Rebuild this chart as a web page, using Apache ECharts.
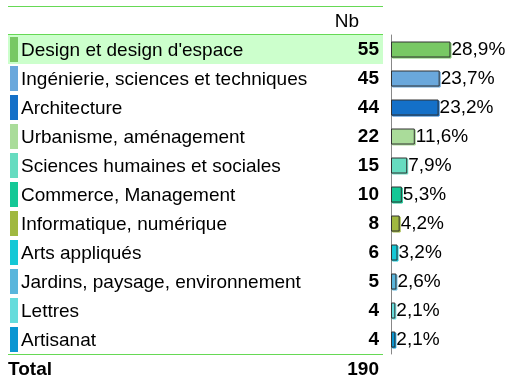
<!DOCTYPE html>
<html>
<head>
<meta charset="utf-8">
<script src="https://cdn.jsdelivr.net/npm/echarts@6/dist/echarts.min.js"></script>
<style>
  html, body { margin: 0; padding: 0; background: #fff; }
  #chart { width: 511px; height: 378px; }
</style>
</head>
<body>
<div id="chart"></div>
<script>
// Répartition par domaine de formation (plusieurs réponses possibles)
var categories = [
  "Design et design d'espace",
  "Ingénierie, sciences et techniques",
  "Architecture",
  "Urbanisme, aménagement",
  "Sciences humaines et sociales",
  "Commerce, Management",
  "Informatique, numérique",
  "Arts appliqués",
  "Jardins, paysage, environnement",
  "Lettres",
  "Artisanat"
];
var counts = [55, 45, 44, 22, 15, 10, 8, 6, 5, 4, 4];
var colors = [
  '#78c864', '#6aa8dc', '#1470c8', '#aadc9a', '#66dcc0', '#14c896',
  '#a0b840', '#14c8d6', '#5ab6dc', '#66dcdc', '#0a96d2'
];
var totalRespondents = 190;
var headerLabel = 'Nb';
var totalLabel = 'Total';
var highlightedRows = ["Design et design d'espace"];

var FONT = '"Liberation Sans", Arial, sans-serif';
var FS = 19;
var LINE_GREEN = '#66d955';

// layout
var tableLeft = 8, tableRight = 383;
var rowsTop = 35, rowsBottom = 354;
var barLeft = 391, barWidthPx = 120;

function pct(v) {
  return (v / totalRespondents * 100).toFixed(1).replace('.', ',') + '%';
}

var rich = { t: { fontSize: FS, fontFamily: FONT, color: '#000', padding: [2, 0, 0, 3] } };
colors.forEach(function (c, i) {
  rich['m' + i] = { width: 8, height: 25, backgroundColor: c };
});

var highlightData = categories.map(function (c) {
  return highlightedRows.indexOf(c) >= 0 ? 1 : '-';
});

var chart = echarts.init(document.getElementById('chart'), null, { renderer: 'canvas' });

var option = {
  animation: false,
  grid: [
    { left: barLeft, top: rowsTop, width: barWidthPx, height: rowsBottom - rowsTop, containLabel: false },
    { left: tableLeft, top: rowsTop, width: tableRight - tableLeft, height: rowsBottom - rowsTop, containLabel: false }
  ],
  xAxis: [
    { gridIndex: 0, type: 'value', min: 0, max: 111, show: false },
    { gridIndex: 1, type: 'value', min: 0, max: 1, show: false }
  ],
  yAxis: [
    {
      gridIndex: 0, type: 'category', data: categories, inverse: true,
      axisLine: { show: true, lineStyle: { color: '#888', width: 1 } },
      axisTick: { show: false },
      splitLine: { show: false },
      axisLabel: {
        align: 'left', margin: barLeft - 10,
        formatter: function (v, i) { return '{m' + i + '|}{t|' + v + '}'; },
        rich: rich
      }
    },
    {
      gridIndex: 0, type: 'category', data: categories, inverse: true, position: 'left',
      axisLine: { show: false }, axisTick: { show: false }, splitLine: { show: false },
      axisLabel: {
        align: 'right', margin: barLeft - 379,
        fontSize: FS, fontWeight: 'bold', fontFamily: FONT, color: '#000',
        formatter: function (v, i) { return String(counts[i]); }
      }
    },
    {
      gridIndex: 1, type: 'category', data: categories, inverse: true, show: false
    }
  ],
  series: [
    {
      type: 'bar', xAxisIndex: 1, yAxisIndex: 2, data: highlightData,
      barWidth: '100%', silent: true, z: 0,
      itemStyle: { color: '#ccffcc' }
    },
    {
      type: 'bar', xAxisIndex: 0, yAxisIndex: 0, barWidth: 16,
      data: counts.map(function (v, i) {
        return {
          value: v,
          itemStyle: {
            color: colors[i], borderColor: '#333', borderWidth: 1,
            shadowColor: colors[i], shadowOffsetX: 1, shadowOffsetY: 1, shadowBlur: 0
          }
        };
      }),
      label: {
        show: true, position: 'right', distance: 1,
        fontSize: FS, fontFamily: FONT, color: '#000',
        formatter: function (p) { return pct(p.value); }
      },
      z: 3
    }
  ],
  graphic: [
    { type: 'line', shape: { x1: tableLeft, y1: 6.5, x2: tableRight, y2: 6.5 }, style: { stroke: LINE_GREEN, lineWidth: 1 } },
    { type: 'line', shape: { x1: tableLeft, y1: rowsTop - 0.5, x2: tableRight, y2: rowsTop - 0.5 }, style: { stroke: LINE_GREEN, lineWidth: 1 }, z: 10 },
    { type: 'line', shape: { x1: tableLeft, y1: rowsBottom + 0.5, x2: tableRight, y2: rowsBottom + 0.5 }, style: { stroke: LINE_GREEN, lineWidth: 1 }, z: 10 },
    { type: 'text', x: 359, y: 22, style: { text: headerLabel, font: FS + 'px ' + FONT, fill: '#000', textAlign: 'right', textVerticalAlign: 'middle' } },
    { type: 'text', x: tableLeft, y: 370, style: { text: totalLabel, font: 'bold ' + FS + 'px ' + FONT, fill: '#000', textAlign: 'left', textVerticalAlign: 'middle' } },
    { type: 'text', x: 379, y: 370, style: { text: String(totalRespondents), font: 'bold ' + FS + 'px ' + FONT, fill: '#000', textAlign: 'right', textVerticalAlign: 'middle' } }
  ]
};
chart.setOption(option);
</script>
</body>
</html>
